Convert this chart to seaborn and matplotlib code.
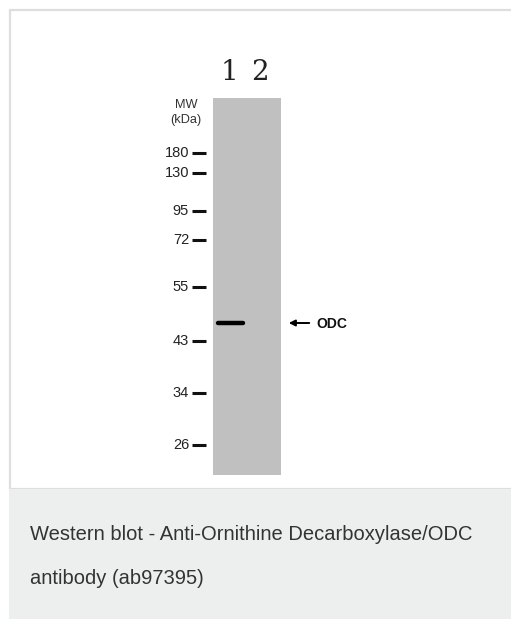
import matplotlib
matplotlib.use("Agg")
import matplotlib.pyplot as plt
import seaborn as sns
import pandas as pd
from matplotlib.patches import Rectangle

# marker ladder (kDa) and where each one ran on the gel (pixels from top)
marker_kda = ["180", "130", "95", "72", "55", "43", "34", "26"]
marker_pos = [153, 173, 211, 240, 287, 341, 393, 445]

lane_labels = ["1", "2"]
lane_centers = [229, 260]

# detected band: lane, position, label
band_lane = [1]
band_pos = [323]
band_label = "ODC"

caption_lines = ["Western blot - Anti-Ornithine Decarboxylase/ODC",
                 "antibody (ab97395)"]

sns.set_style("white")
plt.rcParams['font.family'] = ['Liberation Sans', 'DejaVu Sans']

fig = plt.figure(figsize=(5.11, 6.19), dpi=100)
ax = fig.add_axes([0, 0, 1, 1])
ax.set_xlim(0, 511)
ax.set_ylim(619, 0)
ax.axis("off")

# frame and caption panel
ax.add_patch(Rectangle((10, 10), 520, 479, fc="white", ec="#dedede", lw=1.6))
ax.add_patch(Rectangle((9, 489), 520, 140, fc="#edeeee", ec="none"))

# gel lane
lane_left, lane_right, lane_top, lane_bottom = 213, 281, 98, 475
ax.add_patch(Rectangle((lane_left, lane_top), lane_right - lane_left,
                       lane_bottom - lane_top, fc="#c0c0c0", ec="none"))

# lane numbers
for lab, xc in zip(lane_labels, lane_centers):
    ax.text(xc, 72, lab, ha="center", va="center", fontsize=20,
            family="DejaVu Serif", color="#222222", fontweight="light")

# MW header
ax.text(186, 105, "MW", ha="center", va="center", fontsize=9.2, color="#333333")
ax.text(186, 120, "(kDa)", ha="center", va="center", fontsize=9.2, color="#333333")

# marker ticks + labels
df = pd.DataFrame({"kda": marker_kda, "y": marker_pos})
ax.hlines(df["y"], 192, 206, color="#111111", lw=2.2)
for _, r in df.iterrows():
    ax.text(189, r["y"], r["kda"], ha="right", va="center", fontsize=10.5,
            color="#222222")

# band
for ln, y in zip(band_lane, band_pos):
    xc = lane_centers[ln - 1]
    ax.plot([xc - 11, xc + 14], [y, y], color="black", lw=3.2,
            solid_capstyle="round")

# arrow + label
for y in band_pos:
    ax.annotate("", xy=(286, y), xytext=(312, y),
                arrowprops=dict(arrowstyle="-|>", color="black", lw=1.4,
                                mutation_scale=9))
    ax.text(316, y + 0.5, band_label, ha="left", va="center", fontsize=10,
            fontweight="bold", color="#111111")

# caption
for i, line in enumerate(caption_lines):
    ax.text(30, 535 + i * 43, line, ha="left", va="center", fontsize=14.5,
            color="#333333")

fig.savefig("out.png", dpi=100)
